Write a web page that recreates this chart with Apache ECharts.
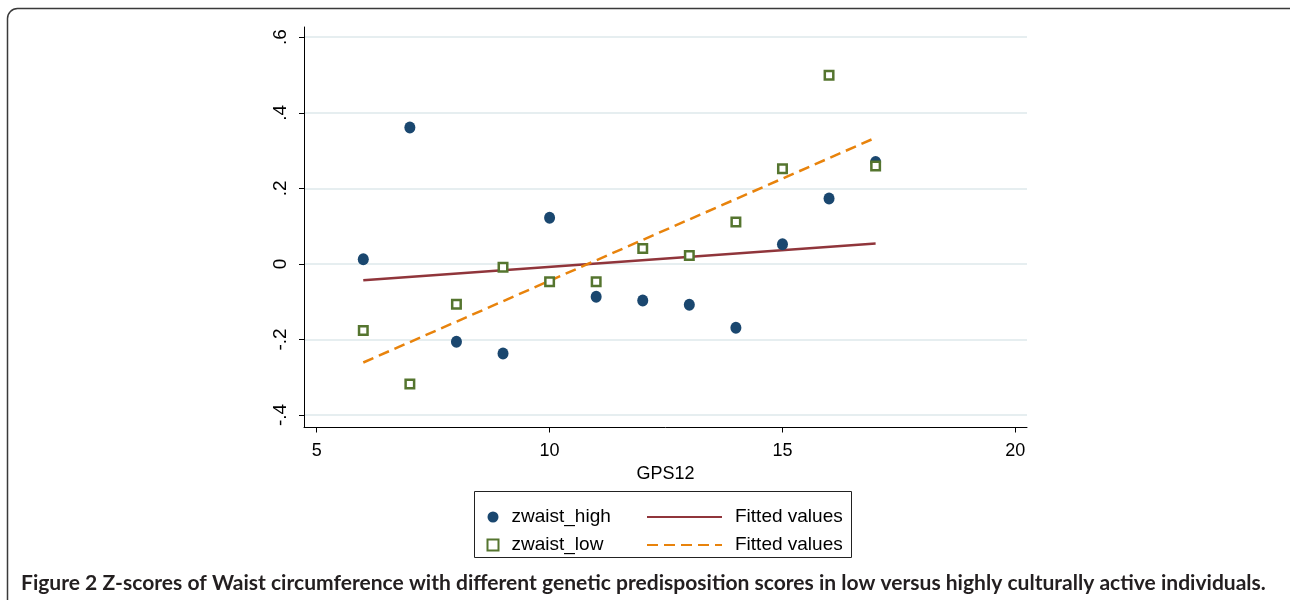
<!DOCTYPE html>
<html>
<head>
<meta charset="utf-8">
<script src="https://cdn.jsdelivr.net/npm/echarts@6/dist/echarts.min.js"></script>
<style>
html,body{margin:0;padding:0;background:#fff;}
#chart{width:1290px;height:600px;}
</style>
</head>
<body>
<div id="chart"></div>
<script>
// ---- data ----
const gps = [6, 7, 8, 9, 10, 11, 12, 13, 14, 15, 16, 17];
const zwaistHigh = [0.012, 0.361, -0.206, -0.237, 0.122, -0.087, -0.097, -0.108, -0.169, 0.052, 0.173, 0.270];
const zwaistLow = [-0.176, -0.318, -0.107, -0.009, -0.047, -0.047, 0.041, 0.022, 0.111, 0.252, 0.499, 0.259];
const fitX = [6, 17];
const fitHighY = [-0.043, 0.054];
const fitLowY = [-0.261, 0.334];
const xTicks = [5, 10, 15, 20];
const yTicks = [-0.4, -0.2, 0, 0.2, 0.4, 0.6];
const yTickLabels = ['-.4', '-.2', '0', '.2', '.4', '.6'];
const captionBold = 'Figure 2';
const captionText = ' Z-scores of Waist circumference with different genetic predisposition scores in low versus highly culturally active individuals.';

const pair = (xs, ys) => xs.map((x, i) => [x, ys[i]]);

// fit caption font size to target width
const cv = document.createElement('canvas').getContext('2d');
cv.font = 'bold 19px Lato';
const w19 = cv.measureText(captionBold + captionText).width;
const capSize = 19 * 1246 / w19;

const FONT = 'Liberation Sans';
const chart = echarts.init(document.getElementById('chart'));
chart.setOption({
  animation: false,
  backgroundColor: '#fff',
  grid: { left: 304, right: 263, top: 27, bottom: 172.5 },
  xAxis: {
    type: 'value', min: 4.727, max: 20.25,
    name: 'GPS12', nameLocation: 'middle', nameGap: 37,
    nameTextStyle: { fontFamily: FONT, fontSize: 18, color: '#000' },
    axisLine: { onZero: false, lineStyle: { color: '#000', width: 1 } },
    axisTick: { show: true, length: 5, customValues: xTicks, lineStyle: { color: '#000' } },
    axisLabel: { customValues: xTicks, margin: 15, fontFamily: FONT, fontSize: 18, color: '#000' },
    splitLine: { show: false }
  },
  yAxis: {
    type: 'value', min: -0.433, max: 0.627,
    axisLine: { show: true, onZero: false, lineStyle: { color: '#000', width: 1 } },
    axisTick: { show: true, length: 5, customValues: yTicks, lineStyle: { color: '#000' } },
    axisLabel: {
      customValues: yTicks, rotate: 90, margin: 14, fontFamily: FONT, fontSize: 19, color: '#000',
      formatter: v => { const i = yTicks.findIndex(t => Math.abs(t - v) < 1e-6); return i >= 0 ? yTickLabels[i] : ''; }
    },
    splitLine: { show: true, lineStyle: { color: '#e6eef0', width: 2 } }
  },
  legend: [
    {
      orient: 'vertical', left: 481.5, top: 502, itemWidth: 11, itemHeight: 11, itemGap: 8,
      selectedMode: false,
      textStyle: { fontFamily: FONT, fontSize: 19, color: '#000', lineHeight: 20, padding: [0, 0, 0, 8] },
      data: [
        { name: 'zwaist_high', icon: 'circle' },
        { name: 'zwaist_low', icon: 'rect' }
      ]
    },
    {
      orient: 'vertical', left: 641, top: 502, itemWidth: 75, itemHeight: 14, itemGap: 8,
      selectedMode: false,
      itemStyle: { opacity: 0 },
      textStyle: { fontFamily: FONT, fontSize: 19, color: '#000', lineHeight: 20, padding: [0, 0, 0, 8] },
      data: ['Fitted values', 'Fitted values ']
    }
  ],
  series: [
    {
      name: 'Fitted values', type: 'line', data: pair(fitX, fitHighY), symbol: 'none', z: 2,
      lineStyle: { color: '#90353b', width: 2.5 }, itemStyle: { color: '#90353b' }
    },
    {
      name: 'Fitted values ', type: 'line', data: pair(fitX, fitLowY), symbol: 'none', z: 2,
      lineStyle: { color: '#e8830c', width: 2.5, type: [11, 6] }, itemStyle: { color: '#e8830c' }
    },
    {
      name: 'zwaist_high', type: 'scatter', data: pair(gps, zwaistHigh), symbol: 'circle', symbolSize: [11, 12], z: 3,
      itemStyle: { color: '#1a476f', opacity: 1 }
    },
    {
      name: 'zwaist_low', type: 'scatter', data: pair(gps, zwaistLow), symbol: 'rect', symbolSize: 8.5, z: 4,
      itemStyle: { color: '#ffffff', borderColor: '#55752f', borderWidth: 2.5, opacity: 1 }
    }
  ],
  graphic: [
    {
      type: 'rect', silent: true,
      shape: { x: 7.5, y: 8.5, width: 1320, height: 700, r: 10 },
      style: { fill: 'none', stroke: '#3a3a3a', lineWidth: 1.5 }
    },
    {
      type: 'rect', silent: true,
      shape: { x: 474.5, y: 491.5, width: 377, height: 66 },
      style: { fill: 'none', stroke: '#222', lineWidth: 1 }
    },
    {
      type: 'text', left: 21, top: 573, silent: true,
      style: {
        text: '{b|' + captionBold + '}{n|' + captionText + '}',
        rich: {
          b: { fontFamily: 'Lato', fontWeight: 'bold', fontSize: capSize, fill: '#231f20' },
          n: { fontFamily: 'Lato', fontWeight: 'bold', fontSize: capSize, fill: '#231f20' }
        }
      }
    }
  ]
});
</script>
</body>
</html>
